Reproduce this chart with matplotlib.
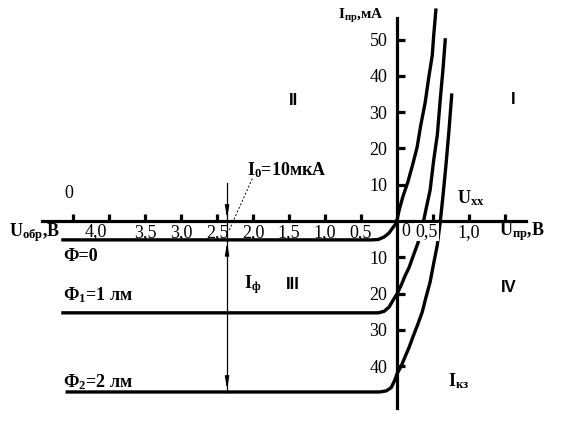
import matplotlib.pyplot as plt

plt.rcParams['font.family'] = ['Liberation Serif', 'DejaVu Serif']
plt.rcParams['mathtext.default'] = 'regular'

# Оси: обратное напряжение слева (отрицательные U), прямой ток вверх
x_ticks = [-4.5, -4.0, -3.5, -3.0, -2.5, -2.0, -1.5, -1.0, -0.5, 0.5, 1.0, 1.5]
x_labels = ['', '', '3,5', '3,0', '2,5', '2,0', '1,5', '1,0', '0,5', '', '1,0', '']
y_ticks = [-40, -30, -20, -10, 10, 20, 30, 40, 50]
y_labels = ['40', '30', '20', '10', '10', '20', '30', '40', '50']

# Ф = 0
u_f0 = [-4.64, -0.35, -0.26, -0.18, -0.11, -0.06, -0.01, 0.03, 0.08, 0.15, 0.22,
        0.28, 0.33, 0.39, 0.44, 0.49, 0.51, 0.54]
i_f0 = [-5.2, -5.2, -5.1, -4.4, -3.3, -1.9, -0.6, 3.0, 6.6, 10.7, 15.7,
        20.4, 26.4, 32.5, 39.4, 45.7, 51.2, 58.1]
# Ф1 = 1 лм
u_f1 = [-4.64, -0.26, -0.18, -0.11, -0.06, 0.0, 0.06, 0.11, 0.17, 0.22, 0.29,
        0.35, 0.40, 0.46, 0.51, 0.56, 0.60, 0.64, 0.67]
i_f1 = [-25.3, -25.3, -24.9, -23.7, -22.0, -20.1, -17.6, -15.2, -12.7, -9.9, -6.1,
        -1.9, 3.0, 8.5, 16.8, 23.7, 33.3, 42.1, 49.9]
# Ф2 = 2 лм
u_f2 = [-4.58, -0.24, -0.15, -0.08, -0.03, 0.0, 0.06, 0.11, 0.17, 0.22, 0.29,
        0.35, 0.40, 0.46, 0.51, 0.56, 0.60, 0.64, 0.68, 0.72, 0.76]
i_f2 = [-47.1, -47.1, -46.8, -45.9, -43.8, -42.1, -39.9, -37.5, -34.7, -32.0, -28.4,
        -25.1, -21.2, -16.8, -11.6, -6.6, -0.3, 7.2, 15.4, 24.5, 34.7]

u_mark = -2.36  # линия I0 / Iф

fig = plt.figure(figsize=(5.71, 4.24), dpi=100)
ax = fig.add_axes([0, 0, 1, 1])
ax.set_xlim(-397 / 72, 174 / 72)
ax.set_ylim(-203 / 3.63, 221 / 3.63)

for s in ['top', 'right']:
    ax.spines[s].set_visible(False)
ax.spines['left'].set_position(('data', 0))
ax.spines['bottom'].set_position(('data', 0))
ax.spines['left'].set_bounds(-51.5, 55.9)
ax.spines['bottom'].set_bounds(-4.93, 1.79)
for s in ['left', 'bottom']:
    ax.spines[s].set_linewidth(2.3)

ax.set_xticks(x_ticks)
ax.set_xticklabels(x_labels)
ax.set_yticks(y_ticks)
ax.set_yticklabels(y_labels)
ax.tick_params(axis='x', direction='in', length=5, width=2.3, pad=2, labelsize=13)
ax.tick_params(axis='y', direction='in', length=6, width=2.3, pad=7, labelsize=13)

ax.plot(u_f0, i_f0, color='black', lw=2.4, solid_joinstyle='round')
ax.plot(u_f1, i_f1, color='black', lw=2.4, solid_joinstyle='round')
ax.plot(u_f2, i_f2, color='black', lw=2.4, solid_joinstyle='round')

# подписи делений, сдвинутые как на рисунке
ax.text(-4.18, -3.0, '4,0', fontsize=13, ha='center', va='center')
ax.text(0.415, -3.0, '0,5', fontsize=13, ha='center', va='center', zorder=3,
        bbox=dict(facecolor='white', edgecolor='none', pad=0.5))

# вертикальная линия со стрелками
ax.plot([u_mark, u_mark], [10.5, -47.1], color='black', lw=0.9)
arr = dict(arrowstyle='-|>,head_width=0.12,head_length=0.7', color='black', lw=0.9)
ax.annotate('', xy=(u_mark, 0), xytext=(u_mark, 4.0), arrowprops=arr)
ax.annotate('', xy=(u_mark, -5.2), xytext=(u_mark, -9.5), arrowprops=arr)
ax.annotate('', xy=(u_mark, -47.1), xytext=(u_mark, -42.5), arrowprops=arr)
ax.plot([u_mark + 0.03, -2.0], [-2.5, 12.1], color='black', lw=0.7, ls=(0, (2, 2)))

bold = dict(fontsize=13, fontweight='bold', va='center')
ax.text(-0.5, 56.4, 'I$_{пр}$,мА', fontsize=11, fontweight='bold', ha='center', va='center')
ax.text(-1.53, 14.0, 'I$_0$=10мкА', ha='center', **bold)
ax.text(-5.04, -3.3, 'U$_{обр}$,В', ha='center', **bold)
ax.text(-4.64, -9.9, 'Ф=0', ha='left', **bold)
ax.text(-4.64, -20.4, 'Ф$_1$=1 лм', ha='left', **bold)
ax.text(-4.64, -44.4, 'Ф$_2$=2 лм', ha='left', **bold)
ax.text(1.03, 6.3, 'U$_{хх}$', ha='center', **bold)
ax.text(1.74, -3.0, 'U$_{пр}$,В', ha='center', **bold)
ax.text(-2.0, -17.6, 'I$_ф$', ha='center', **bold)
ax.text(0.86, -44.1, 'I$_{кз}$', ha='center', **bold)
ax.text(-4.556, 7.7, '0', fontsize=13, ha='center', va='center')
ax.text(0.125, -2.8, '0', fontsize=13, ha='center', va='center')

roman = dict(fontsize=12, fontweight='bold', family='Liberation Sans', ha='center', va='center')
ax.text(-1.444, 33.3, 'II', **roman)
ax.text(1.611, 33.6, 'I', **roman)
ax.text(-1.444, -17.4, 'III', **roman)
ax.text(1.556, -18.2, 'IV', **roman)

fig.savefig('out.png', dpi=100)
